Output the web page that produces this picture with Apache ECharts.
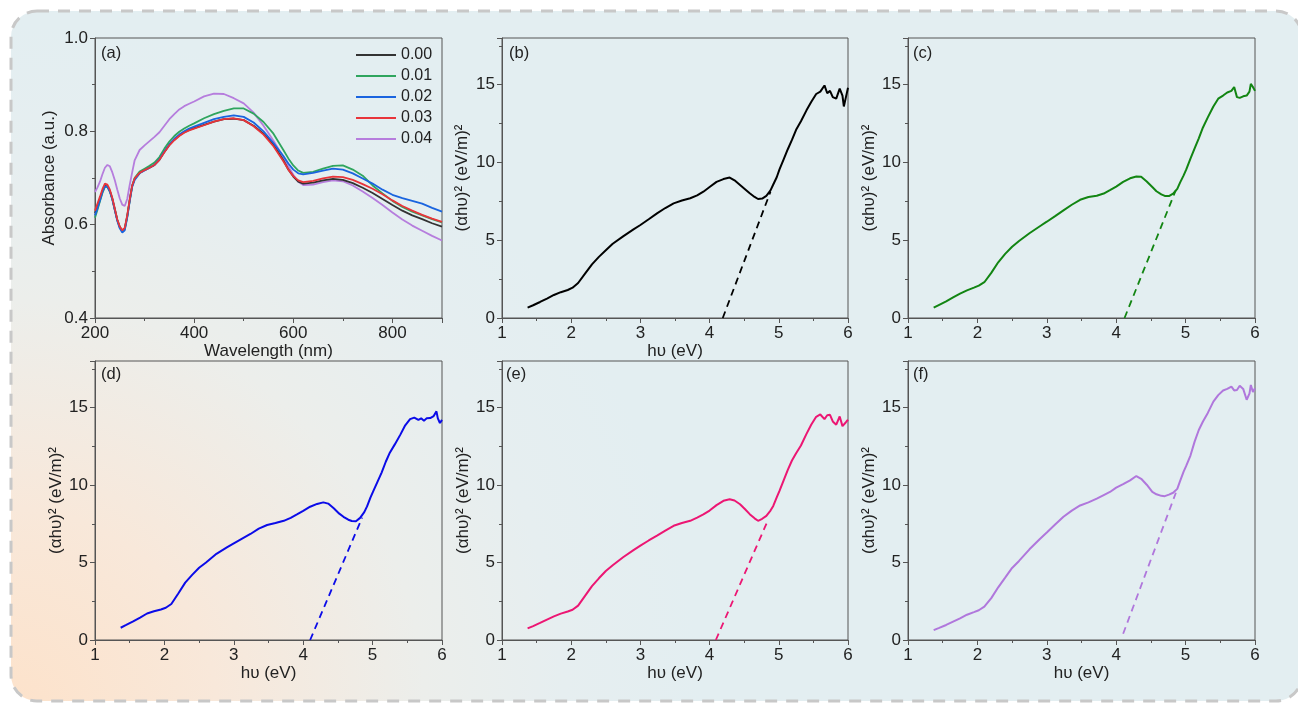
<!DOCTYPE html>
<html>
<head>
<meta charset="utf-8">
<script src="https://cdn.jsdelivr.net/npm/echarts@6/dist/echarts.min.js"></script>
<style>
html, body { margin: 0; padding: 0; background: #fff; }
#chart { width: 1298px; height: 703px; }
</style>
</head>
<body>
<div id="chart"></div>
<script>
// ---- panel (a): absorbance spectra ----
const wavelength = [200,205,210,215,220,225,230,235,240,245,250,255,260,265,270,275,280,
  290,300,310,320,330,340,350,360,370,380,390,400,
  420,440,460,480,500,520,540,560,580,
  590,600,610,620,
  640,660,680,700,720,740,760,780,800,820,840,860,880,900];
const abs000 = [0.625,0.640,0.655,0.672,0.683,0.682,0.672,0.655,0.632,0.610,0.595,0.587,0.592,0.618,0.652,0.683,0.698,
  0.711,0.717,0.722,0.728,0.739,0.756,0.771,0.782,0.791,0.798,0.803,0.807,
  0.814,0.821,0.826,0.827,0.824,0.812,0.795,0.772,0.738,
  0.718,0.703,0.692,0.688,
  0.690,0.695,0.698,0.696,0.689,0.679,0.668,0.655,0.642,0.630,0.620,0.612,0.603,0.596];
const abs001 = [0.615,0.632,0.650,0.668,0.681,0.681,0.671,0.655,0.633,0.610,0.594,0.586,0.590,0.617,0.652,0.684,0.700,
  0.714,0.720,0.726,0.733,0.745,0.763,0.778,0.790,0.799,0.806,0.812,0.817,
  0.828,0.837,0.844,0.849,0.849,0.838,0.820,0.795,0.760,
  0.742,0.727,0.716,0.711,
  0.713,0.720,0.726,0.727,0.718,0.705,0.684,0.667,0.651,0.638,0.628,0.620,0.612,0.605];
const abs002 = [0.620,0.635,0.652,0.670,0.682,0.681,0.671,0.654,0.631,0.608,0.592,0.583,0.588,0.615,0.650,0.681,0.696,
  0.710,0.716,0.722,0.728,0.740,0.757,0.772,0.784,0.793,0.800,0.806,0.810,
  0.818,0.826,0.831,0.834,0.831,0.819,0.800,0.775,0.747,
  0.731,0.718,0.710,0.708,
  0.711,0.716,0.720,0.718,0.710,0.699,0.688,0.675,0.664,0.657,0.651,0.645,0.636,0.628];
const abs003 = [0.630,0.645,0.660,0.676,0.688,0.686,0.675,0.657,0.634,0.611,0.596,0.588,0.593,0.620,0.654,0.684,0.699,
  0.711,0.717,0.722,0.728,0.739,0.755,0.770,0.781,0.790,0.797,0.802,0.806,
  0.813,0.821,0.826,0.828,0.824,0.811,0.793,0.768,0.736,
  0.718,0.704,0.695,0.691,
  0.694,0.699,0.703,0.702,0.696,0.687,0.677,0.665,0.652,0.640,0.630,0.621,0.613,0.606];
const abs004 = [0.670,0.680,0.692,0.708,0.722,0.728,0.725,0.712,0.695,0.675,0.656,0.643,0.640,0.655,0.685,0.712,0.738,
  0.760,0.770,0.779,0.788,0.798,0.812,0.826,0.837,0.847,0.854,0.859,0.864,
  0.875,0.881,0.880,0.871,0.860,0.840,0.812,0.780,0.745,
  0.725,0.707,0.692,0.685,
  0.686,0.691,0.695,0.693,0.684,0.671,0.657,0.642,0.626,0.611,0.598,0.587,0.576,0.566];
const sampleNames = ['0.00','0.01','0.02','0.03','0.04'];

// ---- panels (b)-(f): Tauc plots ----
const hv = [1.37,1.45,1.55,1.65,1.75,1.85,1.95,2.02,2.10,2.20,
  2.30,2.40,2.50,2.60,2.75,2.90,3.00,3.12,3.24,3.36,
  3.48,3.60,3.72,3.82,3.91,4.00,4.10,4.20,4.29,4.36,
  4.44,4.52,4.58,4.65,4.70,4.76,4.82,4.88,4.92,4.97,
  5.01,5.07,5.13,5.19,5.25,5.32,5.40,5.47,5.54,5.60,
  5.66,5.70,5.74,5.78,5.83,5.88,5.92,5.94,5.97,6.00];
const taucB = [0.67,0.82,1.03,1.25,1.48,1.66,1.80,1.95,2.25,2.85,
  3.45,3.93,4.35,4.77,5.25,5.70,5.98,6.35,6.73,7.07,
  7.37,7.55,7.70,7.88,8.12,8.42,8.75,8.93,9.03,8.85,
  8.55,8.25,8.02,7.78,7.65,7.68,7.85,8.20,8.58,9.05,
  9.55,10.20,10.85,11.45,12.10,12.65,13.35,13.90,14.40,14.55,
  14.95,14.45,14.60,14.20,14.10,14.75,14.30,13.60,14.20,14.80];
const taucC = [0.67,0.85,1.07,1.32,1.57,1.78,1.95,2.08,2.30,2.90,
  3.58,4.12,4.58,4.95,5.45,5.90,6.19,6.55,6.92,7.28,
  7.60,7.78,7.86,8.00,8.22,8.45,8.75,8.98,9.10,9.08,
  8.78,8.42,8.15,7.95,7.85,7.84,8.00,8.30,8.70,9.15,
  9.55,10.25,10.90,11.55,12.25,12.90,13.60,14.10,14.30,14.50,
  14.60,14.85,14.20,14.15,14.25,14.30,14.55,15.05,14.85,14.60];
const taucD = [0.79,0.97,1.20,1.45,1.71,1.85,1.97,2.08,2.32,3.00,
  3.70,4.20,4.66,5.00,5.56,5.98,6.24,6.54,6.84,7.18,
  7.42,7.55,7.69,7.88,8.10,8.33,8.60,8.78,8.88,8.80,
  8.50,8.15,7.95,7.76,7.68,7.66,7.88,8.25,8.62,9.20,
  9.60,10.20,10.80,11.50,12.10,12.62,13.25,13.85,14.25,14.35,
  14.20,14.30,14.15,14.30,14.32,14.45,14.75,14.30,14.00,14.20];
const taucE = [0.75,0.90,1.10,1.32,1.52,1.70,1.84,1.95,2.22,2.85,
  3.48,3.98,4.45,4.82,5.34,5.80,6.09,6.42,6.73,7.06,
  7.37,7.55,7.69,7.90,8.10,8.35,8.70,8.98,9.08,9.00,
  8.76,8.40,8.12,7.85,7.69,7.82,8.01,8.35,8.65,9.20,
  9.62,10.30,10.98,11.58,12.05,12.55,13.30,13.90,14.40,14.55,
  14.25,14.50,14.53,14.10,13.89,14.42,13.80,13.68,14.05,14.21];
const taucF = [0.64,0.78,0.97,1.18,1.39,1.63,1.80,1.92,2.15,2.70,
  3.40,4.02,4.65,5.10,5.85,6.52,6.94,7.45,7.95,8.35,
  8.68,8.88,9.12,9.35,9.55,9.83,10.05,10.30,10.58,10.40,
  10.02,9.55,9.40,9.30,9.28,9.38,9.50,9.75,10.25,10.85,
  11.25,11.90,12.80,13.55,14.10,14.65,15.38,15.80,16.10,16.20,
  16.35,16.10,16.13,16.40,16.20,15.50,15.90,16.45,16.00,16.24];

// linear fits (band-gap extrapolation), x and y of both ends
const fitXB = [4.19, 4.88], fitYB = [0, 8.12];
const fitXC = [4.12, 4.86], fitYC = [0, 8.23];
const fitXD = [4.10, 4.85], fitYD = [0, 7.90];
const fitXE = [4.09, 4.85], fitYE = [0, 7.80];
const fitXF = [4.10, 4.86], fitYF = [0.4, 9.50];

const panelLabels = ['(a)','(b)','(c)','(d)','(e)','(f)'];

const FONT = '"Liberation Sans", Arial, sans-serif';
const AXC = '#555';
const TXT = '#222';

const specColors = ['#333333','#2fa55e','#1a64df','#e8343a','#b67ddd'];
const taucColors = ['#000000','#128512','#0b0be8','#ec1673','#b077dc'];

const grids = [
  {left: 95, top: 38, width: 347, height: 280},
  {left: 502, top: 38, width: 346, height: 280},
  {left: 908, top: 38, width: 347, height: 280},
  {left: 95, top: 361, width: 347, height: 279},
  {left: 502, top: 361, width: 346, height: 279},
  {left: 908, top: 361, width: 347, height: 279}
].map(g => Object.assign(g, {show: true, borderColor: AXC, borderWidth: 1,
  backgroundColor: 'transparent', outerBoundsMode: 'none', containLabel: false}));

function xAxis(gi, min, max, interval, name, nameGap, showMax) {
  return {
    type: 'value', gridIndex: gi, min, max, interval,
    name, nameLocation: 'middle', nameGap,
    nameTextStyle: {fontSize: 17, color: TXT, fontFamily: FONT},
    axisLine: {show: true, onZero: false, lineStyle: {color: AXC, width: 1}},
    axisTick: {show: true, inside: false, length: 5, lineStyle: {color: AXC}},
    minorTick: {show: true, splitNumber: 2, length: 3, lineStyle: {color: AXC}},
    axisLabel: {fontSize: 17, color: TXT, margin: 7, fontFamily: FONT, showMaxLabel: showMax, showMinLabel: true},
    splitLine: {show: false}
  };
}
function yAxis(gi, min, max, interval, name, nameGap, showMax, fmt) {
  return {
    type: 'value', gridIndex: gi, min, max, interval,
    name, nameLocation: 'middle', nameGap,
    nameTextStyle: {fontSize: 17, color: TXT, fontFamily: FONT},
    axisLine: {show: true, onZero: false, lineStyle: {color: AXC, width: 1}},
    axisTick: {show: true, inside: false, length: 5, lineStyle: {color: AXC}},
    minorTick: {show: true, splitNumber: 2, length: 3, lineStyle: {color: AXC}},
    axisLabel: {fontSize: 17, color: TXT, margin: 7, fontFamily: FONT, showMaxLabel: showMax, showMinLabel: true, formatter: fmt},
    splitLine: {show: false}
  };
}

const taucName = '(αhυ)² (eV/m)²';
const hvName = 'hυ (eV)';

const xAxes = [
  xAxis(0, 200, 900, 200, 'Wavelength (nm)', 23, false),
  xAxis(1, 1, 6, 1, hvName, 23, true),
  xAxis(2, 1, 6, 1, '', 23, true),
  xAxis(3, 1, 6, 1, hvName, 25, true),
  xAxis(4, 1, 6, 1, hvName, 23, true),
  xAxis(5, 1, 6, 1, hvName, 24, true)
];
const yAxes = [
  yAxis(0, 0.4, 1.0, 0.2, 'Absorbance (a.u.)', 37, true, v => v.toFixed(1)),
  yAxis(1, 0, 18, 5, taucName, 31, false),
  yAxis(2, 0, 18, 5, taucName, 28, false),
  yAxis(3, 0, 18, 5, taucName, 23, false),
  yAxis(4, 0, 18, 5, taucName, 23, false),
  yAxis(5, 0, 18, 5, taucName, 28, false)
];

const zip = (xs, ys) => xs.map((x, i) => [x, ys[i]]);

const series = [];
[abs000, abs001, abs002, abs003, abs004].forEach((ys, i) => {
  series.push({
    name: sampleNames[i], type: 'line', xAxisIndex: 0, yAxisIndex: 0,
    data: zip(wavelength, ys), showSymbol: false, symbol: 'none',
    lineStyle: {color: specColors[i], width: 1.8}, itemStyle: {color: specColors[i]},
    z: i === 4 ? 2 : 3
  });
});
const taucSets = [taucB, taucC, taucD, taucE, taucF];
const fits = [[fitXB, fitYB], [fitXC, fitYC], [fitXD, fitYD], [fitXE, fitYE], [fitXF, fitYF]];
taucSets.forEach((ys, i) => {
  series.push({
    type: 'line', xAxisIndex: i + 1, yAxisIndex: i + 1,
    data: zip(hv, ys), showSymbol: false, symbol: 'none',
    lineStyle: {color: taucColors[i], width: 2}
  });
  series.push({
    type: 'line', xAxisIndex: i + 1, yAxisIndex: i + 1,
    data: zip(fits[i][0], fits[i][1]), showSymbol: false, symbol: 'none',
    lineStyle: {color: taucColors[i], width: 1.8, type: [7, 5]}
  });
});

const labelPos = [[101, 45], [509, 45], [913, 45], [101, 366], [506, 366], [913, 366]];
const titles = panelLabels.map((t, i) => ({
  text: t, left: labelPos[i][0], top: labelPos[i][1], padding: 0,
  textStyle: {fontSize: 16.5, fontWeight: 'normal', color: TXT, fontFamily: FONT}
}));

const chart = echarts.init(document.getElementById('chart'), null, {renderer: 'canvas'});
chart.setOption({
  animation: false,
  backgroundColor: '#ffffff',
  title: titles,
  graphic: [{
    type: 'rect', z: -10, silent: true,
    shape: {x: 11, y: 11, width: 1291, height: 690, r: 26},
    style: {
      fill: {type: 'radial', x: 0.0, y: 1.02, r: 1.0, colorStops: [
        {offset: 0, color: '#fde2ca'},
        {offset: 0.3, color: '#f8e8da'},
        {offset: 0.6, color: '#eceeeb'},
        {offset: 0.8, color: '#e6eef0'},
        {offset: 1, color: '#e3eef1'}
      ]},
      stroke: '#c8c8c8', lineWidth: 3, lineDash: [12, 9]
    }
  }],
  legend: {
    data: sampleNames, orient: 'vertical', left: 351, top: 42,
    itemWidth: 40, itemHeight: 2, itemGap: 5, icon: 'rect',
    textStyle: {fontSize: 16, lineHeight: 16, color: TXT, fontFamily: FONT}
  },
  grid: grids,
  xAxis: xAxes,
  yAxis: yAxes,
  series
});
</script>
</body>
</html>
